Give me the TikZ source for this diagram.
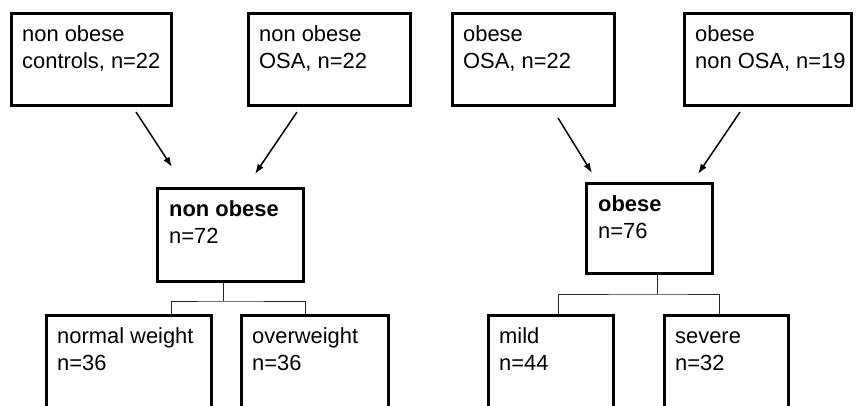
\documentclass[tikz,border=0pt]{standalone}
\usepackage{fontspec}
\setmainfont{Liberation Sans}
\usetikzlibrary{calc,arrows.meta}
\newcommand\flowbox[5]{%
  \node[boxst, minimum width={#4-#2-3}, minimum height={#5-#3-3}] (#1) at ({(#2+#4)/2},{(#3+#5)/2}) {};}
\begin{document}
\begin{tikzpicture}[x=1pt,y=-1pt,
  boxst/.style={draw=black, line width=3pt, rectangle, inner sep=0pt, fill=white},
  txt/.style={anchor=north west, inner sep=0pt, align=left,
    font={\fontsize{21.9pt}{27pt}\selectfont}},
  arr/.style={line width=1.5pt, -{Latex[length=10pt,width=7pt]}},
  tree/.style={line width=1pt, draw=black!85}]
\useasboundingbox (0,0) rectangle (856,405);
\clip (0,0) rectangle (856,405);
\fill[white] (0,0) rectangle (856,405);
% top row
\flowbox{b1}{10}{12}{173}{107}
\flowbox{b2}{247}{12}{412}{107}
\flowbox{b3}{451}{12}{616}{107}
\flowbox{b4}{683}{12}{853}{107}
% middle
\flowbox{m1}{156}{187}{305}{283}
\flowbox{m2}{585}{182}{714}{275}
% bottom
\flowbox{c1}{45}{314}{213}{430}
\flowbox{c2}{240}{314}{390}{430}
\flowbox{c3}{487}{314}{615}{430}
\flowbox{c4}{663}{314}{790}{430}
% texts
\node[txt] (tb1) at ($(b1.north west)+(12,10)$) {\strut non obese\\controls, n=22};
\node[txt] (tb2) at ($(b2.north west)+(12,10)$) {\strut non obese\\OSA, n=22};
\node[txt] (tb3) at ($(b3.north west)+(12,10)$) {\strut obese\\OSA, n=22};
\node[txt] (tb4) at ($(b4.north west)+(12,10)$) {\strut obese\\non OSA, n=19};
\node[txt] (tm1) at ($(m1.north west)+(13,10)$) {\strut\textbf{non obese}\\n=72};
\node[txt] (tm2) at ($(m2.north west)+(13,10)$) {\strut\textbf{obese}\\n=76};
\node[txt] (tc1) at ($(c1.north west)+(12,10)$) {\strut normal weight\\n=36};
\node[txt] (tc2) at ($(c2.north west)+(12,10)$) {\strut overweight\\n=36};
\node[txt] (tc3) at ($(c3.north west)+(12,10)$) {\strut mild\\n=44};
\node[txt] (tc4) at ($(c4.north west)+(12,10)$) {\strut severe\\n=32};
% arrows
\coordinate (a1s) at (136,112); \coordinate (a1e) at (172,167);
\coordinate (a2s) at (297,112); \coordinate (a2e) at (255,174);
\coordinate (a3s) at (558,118); \coordinate (a3e) at (592,173);
\coordinate (a4s) at (740,112); \coordinate (a4e) at (698,174);
\draw[arr] (a1s) -- (a1e);
\draw[arr] (a2s) -- (a2e);
\draw[arr] (a3s) -- (a3e);
\draw[arr] (a4s) -- (a4e);
% tree connectors
\coordinate (j1) at (223,301);
\coordinate (j2) at (657,294);
\draw[tree] (m1.south -| j1) -- (j1);
\draw[tree] (c1.north -| 171,0) |- (j1) -| (c2.north -| 305,0);
\draw[tree] (m2.south -| j2) -- (j2);
\draw[tree] (c3.north -| 558,0) |- (j2) -| (c4.north -| 719,0);
\end{tikzpicture}
\end{document}
